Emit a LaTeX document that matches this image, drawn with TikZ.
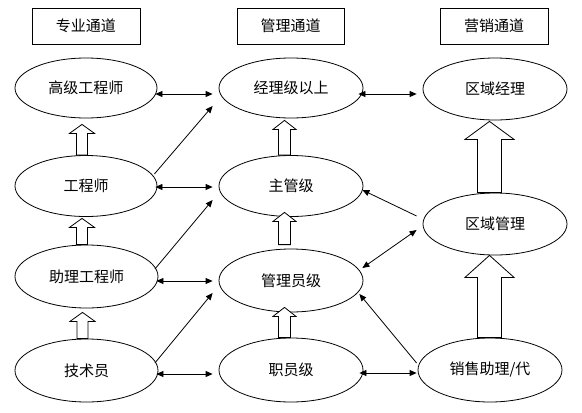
\documentclass[tikz,border=0pt]{standalone}
\usepackage{fontspec}
\setmainfont{Noto Sans CJK SC}
\usetikzlibrary{calc,arrows.meta,shapes.geometric}

\newcommand{\blockup}[5]{%
  \draw[blk] let \p1=#1, \p2=#2 in
    (\x2-#3pt,\y1) -- (\x2-#3pt,\y2-#5pt) -- (\x2-#4pt,\y2-#5pt) -- (\x2,\y2)
    -- (\x2+#4pt,\y2-#5pt) -- (\x2+#3pt,\y2-#5pt) -- (\x2+#3pt,\y1) -- cycle;}

\begin{document}
\begin{tikzpicture}[x=1pt, y=-1pt, line width=0.8pt,
    lvl/.style={draw, ellipse, minimum width=144pt, minimum height=62pt, inner sep=0pt,
      font=\fontsize{15}{18}\selectfont},
    hdr/.style={draw, minimum width=108pt, minimum height=36pt, inner sep=0pt,
      font=\fontsize{15}{18}\selectfont},
    dbl/.style={{Triangle[length=7pt,width=6pt]}-{Triangle[length=7pt,width=6pt]}},
    sgl/.style={-{Triangle[length=7pt,width=6pt]}},
    blk/.style={fill=white}]
    \useasboundingbox (0,0) rectangle (582,413);

    \node[hdr] (zy) at (86,26) {专业通道};
    \node[hdr, minimum width=107pt] (gl) at (290.5,26) {管理通道};
    \node[hdr] (yx) at (494,26) {营销通道};

    \node[lvl, minimum width=142pt, minimum height=60pt] (gjgcs) at (86,88) {高级工程师};
    \node[lvl, minimum width=142pt, minimum height=61pt] (gcs) at (86,186) {工程师};
    \node[lvl, minimum width=143pt, minimum height=63pt] (zlgcs) at (86.5,276.5) {助理工程师};
    \node[lvl, minimum width=143pt, minimum height=63pt] (jsy) at (86.5,370.5) {技术员};

    \node[lvl, minimum height=60pt] (jlys) at (291,88) {经理级以上};
    \node[lvl, minimum height=61pt] (zgj) at (291,186) {主管级};
    \node[lvl, minimum height=63pt] (glyj) at (291,280.5) {管理员级};
    \node[lvl, minimum height=64pt] (zyj) at (291,370) {职员级};

    \node[lvl] (qyjl) at (495,89) {区域经理};
    \node[lvl] (qygl) at (495,224) {区域管理};
    \node[lvl, minimum height=64pt] (xszl) at (490,370) {销售助理/代};

    \blockup{(gcs.north)}{([shift={(-4pt,-6pt)}]gjgcs.south)}{5.5}{12.5}{9}
    \blockup{(zlgcs.north)}{([shift={(-4pt,-1.5pt)}]gcs.south)}{5.5}{12.5}{9}
    \blockup{(jsy.north)}{([shift={(-4pt,-4pt)}]zlgcs.south)}{5.5}{12.5}{9}
    \blockup{(zgj.north)}{([shift={(-6.5pt,-2pt)}]jlys.south)}{6}{11.5}{9}
    \blockup{([yshift=4pt]glyj.north)}{([shift={(-6.5pt,4.5pt)}]zgj.south)}{6}{11.5}{9}
    \blockup{(zyj.north)}{([shift={(-6.5pt,5pt)}]glyj.south)}{6}{11.5}{9}
    \blockup{(qygl.north)}{([shift={(-5.5pt,-1pt)}]qyjl.south)}{12}{24.5}{18}
    \blockup{(xszl.north)}{([shift={(-5.5pt,0pt)}]qygl.south)}{12}{24.5}{22}

    \draw[dbl] ($(gjgcs.east)+(-2,6)$) -- ($(jlys.west)+(-6,6)$);
    \draw[dbl] ($(gcs.east)+(-2,1)$) -- ($(zgj.west)+(-6,1)$);
    \draw[dbl] ($(zlgcs.east)+(-2,4.5)$) -- ($(glyj.west)+(-6,0.5)$);
    \draw[dbl] ($(jsy.east)+(-2,3.5)$) -- ($(zyj.west)+(-6,4)$);
    \draw[dbl] ($(jlys.east)+(-5,6)$) -- ($(qyjl.west)+(-6,5)$);
    \draw[dbl] ($(zyj.east)+(-4,3)$) -- ($(xszl.west)+(-1,3)$);

    \draw[sgl] ($(gcs.east)+(-3,-12)$) -- ($(jlys.west)+(-6,18)$);
    \draw[sgl] ($(zlgcs.east)+(-3.5,-7.5)$) -- ($(zgj.west)+(-6,14)$);
    \draw[sgl] ($(jsy.east)+(-3.5,-7.5)$) -- ($(glyj.west)+(-6,12.5)$);
    \draw[sgl] ($(qygl.west)+(-6,-8)$) -- ($(zgj.east)+(-1,4)$);
    \draw[dbl] ($(glyj.east)+(-1,-12.5)$) -- ($(qygl.west)+(-6,6)$);
    \draw[sgl] ($(xszl.west)+(-1,-7)$) -- ($(glyj.east)+(-4,13.5)$);
\end{tikzpicture}
\end{document}
